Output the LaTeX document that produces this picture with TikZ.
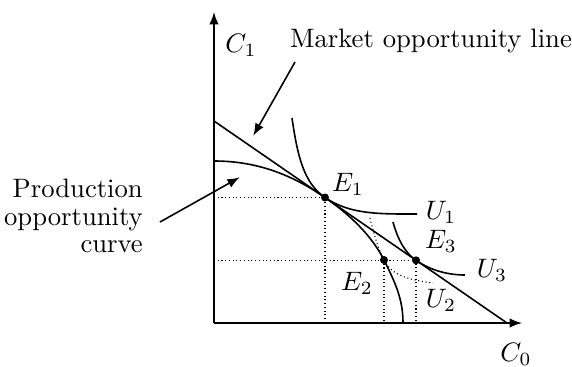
\documentclass[tikz,border=0pt]{standalone}
\usepackage{amsmath}
\usetikzlibrary{arrows, positioning, calc}
\tikzstyle{axis} = [semithick,->,>=latex]
\tikzstyle{curve} = [semithick]
\tikzstyle{guide} = [densely dotted, thin]
\tikzstyle{arrow} = [semithick,->,>=latex, shorten >=1pt]
\tikzstyle{dot} = [circle, fill=black, inner sep=0pt, minimum size=3pt]
\tikzstyle{lbl} = [inner sep=1pt, font=\fontsize{10}{10.2}\selectfont]

\begin{document}
\begin{tikzpicture}[x=0.375pt, y=-0.375pt]
    \useasboundingbox (0,0) rectangle (572,366);

    % axes
    \coordinate (o) at (214,323);
    \coordinate (ytop) at (214,12);
    \coordinate (xend) at (522,323);
    \draw [axis] (o) -- (ytop);
    \draw [axis] (o) -- (xend);
    \node (c1) [lbl] at (241,45) {$C_1$};
    \node (c0) [lbl] at (516,354) {$C_0$};

    % points
    \node (e1) [dot] at (325,197.5) {};
    \node (e2) [dot] at (384,260) {};
    \node (e3) [dot] at (416,260.3) {};

    % dotted guides
    \draw [guide] (o |- e1) -- (e1.center) -- (e1 |- o);
    \draw [guide] (o |- e3) -- (e3.center) -- (e3 |- o);
    \draw [guide] (e2.center) -- (e2 |- o);

    % market opportunity line
    \coordinate (mtop) at (214,121);
    \coordinate (mbot) at (507,323);
    \draw [curve] (mtop) -- (mbot);

    % production opportunity curve
    \draw [curve] (214,161) .. controls (255,161) and (290,173.4) .. (e1.center)
        .. controls (350,214.7) and (372,236) .. (e2.center)
        .. controls (396,284) and (403,300) .. (403,323);

    % indifference curves
    \draw [curve] (292,118) .. controls (298,160) and (305,183.7) .. (e1.center)
        .. controls (350,214.7) and (380,214) .. (417,214);
    \draw [curve] (393,222) .. controls (398,240) and (405,252.7) .. (e3.center)
        .. controls (432,271.3) and (450,275) .. (465,275);
    \draw [guide] (370,218) .. controls (374,235) and (378,248) .. (e2.center)
        .. controls (392,276) and (410,280) .. (433,283);

    \node (e1l) [lbl] at (348,184) {$E_1$};
    \node (e2l) [lbl] at (357,283) {$E_2$};
    \node (e3l) [lbl] at (441,241) {$E_3$};
    \node (u1l) [lbl] at (441,212) {$U_1$};
    \node (u2l) [lbl] at (441,300) {$U_2$};
    \node (u3l) [lbl] at (492,270) {$U_3$};

    % labels with pointers
    \node (mkt) [lbl] at (431,41) {Market opportunity line};
    \node (prod) [lbl, align=right, anchor=east] at (146,216) {Production\\opportunity\\curve};
    \coordinate (mkttail) at (295,62);
    \coordinate (mkthead) at (252,138);
    \coordinate (prodtail) at (160,222);
    \coordinate (prodhead) at (242,176);
    \draw [arrow] (mkttail) -- (mkthead);
    \draw [arrow] (prodtail) -- (prodhead);
\end{tikzpicture}
\end{document}
